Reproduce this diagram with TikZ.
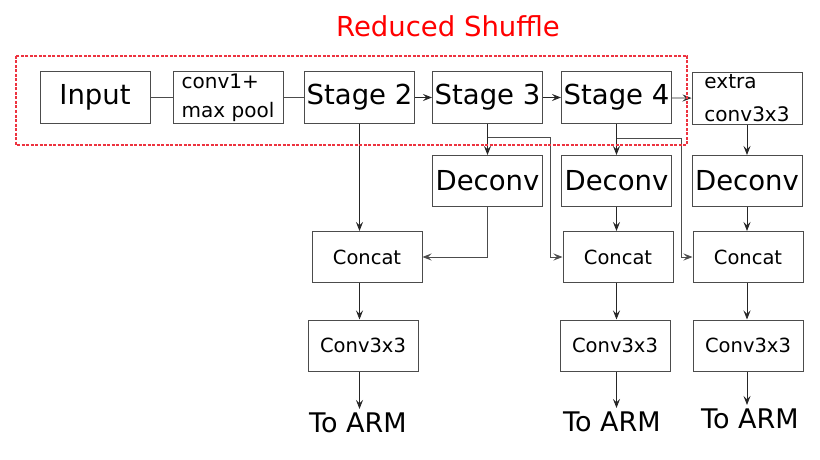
\documentclass[tikz,border=0pt]{standalone}
\usepackage{fontspec}
\setmainfont{DejaVu Sans}
\usepackage{tikz}
\usetikzlibrary{arrows.meta}
\pgfdeclarelayer{edgelayer}
\pgfdeclarelayer{nodelayer}
\pgfsetlayers{edgelayer,nodelayer,main}
\definecolor{boxline}{rgb}{0.3,0.3,0.3}
\definecolor{linkline}{rgb}{0.15,0.15,0.15}
\definecolor{groupred}{rgb}{0.93,0.2,0.25}
\tikzstyle{none}=[inner sep=0pt]
\tikzstyle{big_block}=[draw=boxline, line width=1pt, shape=rectangle, minimum width=110pt, minimum height=51pt, inner sep=0pt, font=\fontsize{27.5}{30}\selectfont]
\tikzstyle{small_block}=[big_block, font=\fontsize{19.5}{29}\selectfont]
\tikzstyle{two_line_block}=[big_block, align=left, font=\fontsize{20}{29}\selectfont]
\tikzstyle{arm_text}=[inner sep=0pt, outer sep=4pt, font=\fontsize{27}{30}\selectfont]
\tikzstyle{title_text}=[inner sep=0pt, text=red, font=\fontsize{27.5}{30}\selectfont]
\tikzstyle{group_box}=[draw=groupred, line width=1.2pt, dash pattern=on 3pt off 1.5pt]
\tikzstyle{plain_connector}=[-, draw=boxline, line width=0.8pt]
\tikzstyle{main_connector}=[-{Stealth[length=9pt,width=7pt,inset=3.5pt]}, draw=linkline, line width=0.8pt]

\begin{document}
\begin{tikzpicture}[x=1pt, y=-1pt]
    \useasboundingbox (0,0) rectangle (820,460);
    \begin{pgfonlayer}{nodelayer}
        % title
        \node [style=title_text] (30) at (448, 26) {Reduced Shuffle};

        % backbone
        \node [style=big_block] (0) at (95, 97.5) {Input};
        \node [style=two_line_block] (1) at (228, 97.5) {conv1+\\max pool};
        \node [style=big_block] (2) at (359.5, 97.5) {Stage 2};
        \node [style=big_block] (3) at (487.5, 97.5) {Stage 3};
        \node [style=big_block] (4) at (616.5, 97.5) {Stage 4};
        \node [style=two_line_block, font=\fontsize{20}{33}\selectfont] (5) at (747, 98.5) {extra\\conv3x3};

        % deconv layer
        \node [style=big_block] (6) at (487.5, 181) {Deconv};
        \node [style=big_block] (7) at (616.5, 181) {Deconv};
        \node [style=big_block] (8) at (747, 181) {Deconv};

        % concat layer
        \node [style=small_block] (10) at (367, 257) {Concat};
        \node [style=small_block] (11) at (618, 257) {Concat};
        \node [style=small_block] (12) at (748, 257) {Concat};

        % conv3x3 layer
        \node [style=small_block] (13) at (363, 345.5) {Conv3x3};
        \node [style=small_block] (14) at (615, 345.5) {Conv3x3};
        \node [style=small_block] (15) at (748, 345.5) {Conv3x3};

        % outputs
        \node [style=arm_text] (16) at (358, 423) {To ARM};
        \node [style=arm_text] (17) at (612, 422) {To ARM};
        \node [style=arm_text] (18) at (750, 419) {To ARM};

        % docking points for the skip lines
        \coordinate (20) at (550, 137);
        \coordinate (21) at (681, 138);
    \end{pgfonlayer}
    \begin{pgfonlayer}{edgelayer}
        \draw [style={plain_connector}] (0.east) -- (1.west);
        \draw [style={plain_connector}] (1.east) -- (2.west);
        \draw [style={main_connector}] (2) -- (3);
        \draw [style={main_connector}] (3) -- (4);
        \draw [style={main_connector}] (4) -- (5);

        \draw [style={main_connector}] (3) -- (6);
        \draw [style={main_connector}] (4) -- (7);
        \draw [style={main_connector}] (5) -- (8);

        \draw [style={main_connector}] (2.south) -- (2.south |- 10.north);
        \draw [style={main_connector}, draw=boxline] (6.south) |- (10.east);
        \draw [style={main_connector}, draw=boxline] (3.south |- 20) -- (20) |- (11.west);
        \draw [style={main_connector}, draw=boxline] (4.south |- 21) -- (21) |- (12.west);
        \draw [style={main_connector}] (7.south) -- (7.south |- 11.north);
        \draw [style={main_connector}] (8.south) -- (8.south |- 12.north);

        \draw [style={main_connector}] (2.south |- 10.south) -- (2.south |- 13.north);
        \draw [style={main_connector}] (7.south |- 11.south) -- (7.south |- 14.north);
        \draw [style={main_connector}] (8.south |- 12.south) -- (8.south |- 15.north);

        \draw [style={main_connector}] (2.south |- 13.south) -- (2.south |- 16.north);
        \draw [style={main_connector}] (7.south |- 14.south) -- (7.south |- 17.north);
        \draw [style={main_connector}] (8.south |- 15.south) -- (8.south |- 18.north);
    \end{pgfonlayer}
    \draw [style={group_box}] (16, 56) rectangle (687, 145);
\end{tikzpicture}
\end{document}
